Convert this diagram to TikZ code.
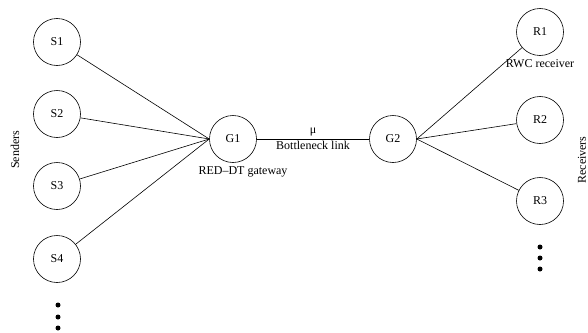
\documentclass[tikz,border=0pt]{standalone}
\usepackage{fontspec}
\setmainfont{Liberation Serif}
\usetikzlibrary{positioning}
\begin{document}
\begin{tikzpicture}[x=1pt,y=-1pt,line width=.6pt,font=\fontsize{12}{14}\selectfont,
  host/.style={draw,circle,minimum size=47pt,inner sep=0pt},
  dot/.style={fill,circle,inner sep=0pt,minimum size=5pt}]
\useasboundingbox (0,0) rectangle (588,332);
\foreach \n/\y in {1/42,2/114,3/186,4/259} \node[host] (S\n) at (57,\y) {S\n};
\foreach \n/\y in {1/32,2/120,3/201} \node[host] (R\n) at (540,\y) {R\n};
\node[host] (G1) at (233,139) {G1}; \node[host] (G2) at (393,139) {G2};
\foreach \n in {1,...,4} \draw (S\n) -- (G1.west);
\foreach \n in {1,2,3} \draw (G2.east) -- (R\n);
\draw (G1) -- node[above=-1pt] (mu) {μ} node[below=-1pt] (bl) {Bottleneck link} (G2);
\node[below=0pt of G1,xshift=10pt] (gw) {RED–DT gateway};
\node[below=0pt of R1] (rwc) {RWC receiver};
\node[rotate=90] (snd) at (15,150) {Senders};
\node[rotate=90] (rcv) at (582,160) {Receivers};
\foreach \y [count=\i] in {305,317,328} \node[dot] (sd\i) at (58,\y) {};
\foreach \y [count=\i] in {247,258,269} \node[dot] (rd\i) at (540,\y) {};
\end{tikzpicture}
\end{document}
